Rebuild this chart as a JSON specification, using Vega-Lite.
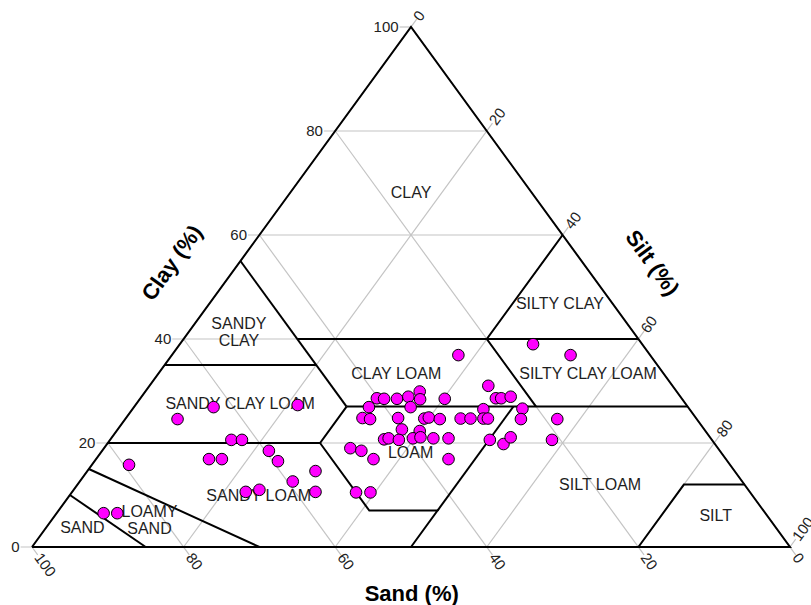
{
  "$schema": "https://vega.github.io/schema/vega-lite/v6.json",
  "width": 758,
  "height": 520,
  "autosize": {"type": "none"},
  "padding": {"left": 32, "top": 27, "right": 21, "bottom": 58},
  "background": "white",
  "config": {"view": {"stroke": null}, "font": "Liberation Sans"},
  "datasets": {
    "grid": [
      {"id": "c0", "ord": 0, "sand": 101.5, "silt": -1.5, "clay": 0}, {"id": "c0", "ord": 1, "sand": 0, "silt": 100, "clay": 0},
      {"id": "c20", "ord": 0, "sand": 81.5, "silt": -1.5, "clay": 20}, {"id": "c20", "ord": 1, "sand": 0, "silt": 80, "clay": 20},
      {"id": "c40", "ord": 0, "sand": 61.5, "silt": -1.5, "clay": 40}, {"id": "c40", "ord": 1, "sand": 0, "silt": 60, "clay": 40},
      {"id": "c60", "ord": 0, "sand": 41.5, "silt": -1.5, "clay": 60}, {"id": "c60", "ord": 1, "sand": 0, "silt": 40, "clay": 60},
      {"id": "c80", "ord": 0, "sand": 21.5, "silt": -1.5, "clay": 80}, {"id": "c80", "ord": 1, "sand": 0, "silt": 20, "clay": 80},
      {"id": "c100", "ord": 0, "sand": 1.5, "silt": -1.5, "clay": 100}, {"id": "c100", "ord": 1, "sand": 0, "silt": 0, "clay": 100},
      {"id": "s0", "ord": 0, "sand": 0, "silt": 0, "clay": 100}, {"id": "s0", "ord": 1, "sand": 0, "silt": 101.5, "clay": -1.5},
      {"id": "s20", "ord": 0, "sand": 20, "silt": 0, "clay": 80}, {"id": "s20", "ord": 1, "sand": 20, "silt": 81.5, "clay": -1.5},
      {"id": "s40", "ord": 0, "sand": 40, "silt": 0, "clay": 60}, {"id": "s40", "ord": 1, "sand": 40, "silt": 61.5, "clay": -1.5},
      {"id": "s60", "ord": 0, "sand": 60, "silt": 0, "clay": 40}, {"id": "s60", "ord": 1, "sand": 60, "silt": 41.5, "clay": -1.5},
      {"id": "s80", "ord": 0, "sand": 80, "silt": 0, "clay": 20}, {"id": "s80", "ord": 1, "sand": 80, "silt": 21.5, "clay": -1.5},
      {"id": "s100", "ord": 0, "sand": 100, "silt": 0, "clay": 0}, {"id": "s100", "ord": 1, "sand": 100, "silt": 1.5, "clay": -1.5},
      {"id": "t0", "ord": 0, "sand": 100, "silt": 0, "clay": 0}, {"id": "t0", "ord": 1, "sand": -1.5, "silt": 0, "clay": 101.5},
      {"id": "t20", "ord": 0, "sand": 80, "silt": 20, "clay": 0}, {"id": "t20", "ord": 1, "sand": -1.5, "silt": 20, "clay": 81.5},
      {"id": "t40", "ord": 0, "sand": 60, "silt": 40, "clay": 0}, {"id": "t40", "ord": 1, "sand": -1.5, "silt": 40, "clay": 61.5},
      {"id": "t60", "ord": 0, "sand": 40, "silt": 60, "clay": 0}, {"id": "t60", "ord": 1, "sand": -1.5, "silt": 60, "clay": 41.5},
      {"id": "t80", "ord": 0, "sand": 20, "silt": 80, "clay": 0}, {"id": "t80", "ord": 1, "sand": -1.5, "silt": 80, "clay": 21.5},
      {"id": "t100", "ord": 0, "sand": 0, "silt": 100, "clay": 0}, {"id": "t100", "ord": 1, "sand": -1.5, "silt": 100, "clay": 1.5}
    ],
    "classes": [
      {"id": "outer", "ord": 0, "sand": 100, "silt": 0, "clay": 0}, {"id": "outer", "ord": 1, "sand": 0, "silt": 100, "clay": 0},
      {"id": "outer", "ord": 2, "sand": 0, "silt": 0, "clay": 100}, {"id": "outer", "ord": 3, "sand": 100, "silt": 0, "clay": 0},
      {"id": "sand", "ord": 0, "sand": 90, "silt": 0, "clay": 10}, {"id": "sand", "ord": 1, "sand": 85, "silt": 15, "clay": 0},
      {"id": "loamysand", "ord": 0, "sand": 85, "silt": 0, "clay": 15}, {"id": "loamysand", "ord": 1, "sand": 70, "silt": 30, "clay": 0},
      {"id": "clay20", "ord": 0, "sand": 80, "silt": 0, "clay": 20}, {"id": "clay20", "ord": 1, "sand": 52, "silt": 28, "clay": 20},
      {"id": "clay20", "ord": 2, "sand": 45, "silt": 28, "clay": 27},
      {"id": "sandyloam", "ord": 0, "sand": 52, "silt": 28, "clay": 20}, {"id": "sandyloam", "ord": 1, "sand": 52, "silt": 41, "clay": 7},
      {"id": "sandyloam", "ord": 2, "sand": 43, "silt": 50, "clay": 7}, {"id": "sandyloam", "ord": 3, "sand": 50, "silt": 50, "clay": 0},
      {"id": "silt50", "ord": 0, "sand": 43, "silt": 50, "clay": 7}, {"id": "silt50", "ord": 1, "sand": 23, "silt": 50, "clay": 27},
      {"id": "clay35", "ord": 0, "sand": 65, "silt": 0, "clay": 35}, {"id": "clay35", "ord": 1, "sand": 45, "silt": 20, "clay": 35},
      {"id": "sand45", "ord": 0, "sand": 45, "silt": 0, "clay": 55}, {"id": "sand45", "ord": 1, "sand": 45, "silt": 28, "clay": 27},
      {"id": "clay27", "ord": 0, "sand": 45, "silt": 28, "clay": 27}, {"id": "clay27", "ord": 1, "sand": 0, "silt": 73, "clay": 27},
      {"id": "clay40", "ord": 0, "sand": 45, "silt": 15, "clay": 40}, {"id": "clay40", "ord": 1, "sand": 0, "silt": 60, "clay": 40},
      {"id": "siltyclay", "ord": 0, "sand": 0, "silt": 40, "clay": 60}, {"id": "siltyclay", "ord": 1, "sand": 20, "silt": 40, "clay": 40},
      {"id": "siltyclay", "ord": 2, "sand": 20, "silt": 53, "clay": 27},
      {"id": "silt", "ord": 0, "sand": 20, "silt": 80, "clay": 0}, {"id": "silt", "ord": 1, "sand": 8, "silt": 80, "clay": 12},
      {"id": "silt", "ord": 2, "sand": 0, "silt": 88, "clay": 12}
    ],
    "classNames": [
      {"name": "CLAY", "sand": 16, "silt": 16, "clay": 68},
      {"name": "SANDY\nCLAY", "sand": 51.3, "silt": 5.9, "clay": 42.8},
      {"name": "SILTY CLAY", "sand": 7, "silt": 46.3, "clay": 46.7},
      {"name": "CLAY LOAM", "sand": 35.3, "silt": 31.4, "clay": 33.3},
      {"name": "SILTY CLAY LOAM", "sand": 10, "silt": 56.7, "clay": 33.3},
      {"name": "SANDY CLAY LOAM", "sand": 58.8, "silt": 13.7, "clay": 27.5},
      {"name": "LOAM", "sand": 41, "silt": 40.9, "clay": 18.1},
      {"name": "SILT LOAM", "sand": 19.1, "silt": 69, "clay": 11.9},
      {"name": "SILT", "sand": 6.8, "silt": 87.2, "clay": 6},
      {"name": "SANDY LOAM", "sand": 65.2, "silt": 25, "clay": 9.8},
      {"name": "LOAMY\nSAND", "sand": 81.1, "silt": 12.1, "clay": 6.8},
      {"name": "SAND", "sand": 91.5, "silt": 4.8, "clay": 3.7}
    ],
    "ticks": [
      {"axis": "clay", "label": "0", "sand": 101.5, "silt": -1.5, "clay": 0},
      {"axis": "clay", "label": "20", "sand": 81.5, "silt": -1.5, "clay": 20},
      {"axis": "clay", "label": "40", "sand": 61.5, "silt": -1.5, "clay": 40},
      {"axis": "clay", "label": "60", "sand": 41.5, "silt": -1.5, "clay": 60},
      {"axis": "clay", "label": "80", "sand": 21.5, "silt": -1.5, "clay": 80},
      {"axis": "clay", "label": "100", "sand": 1.5, "silt": -1.5, "clay": 100},
      {"axis": "sand", "label": "0", "sand": 0, "silt": 101.5, "clay": -1.5},
      {"axis": "sand", "label": "20", "sand": 20, "silt": 81.5, "clay": -1.5},
      {"axis": "sand", "label": "40", "sand": 40, "silt": 61.5, "clay": -1.5},
      {"axis": "sand", "label": "60", "sand": 60, "silt": 41.5, "clay": -1.5},
      {"axis": "sand", "label": "80", "sand": 80, "silt": 21.5, "clay": -1.5},
      {"axis": "sand", "label": "100", "sand": 100, "silt": 1.5, "clay": -1.5},
      {"axis": "silt", "label": "0", "sand": -1.5, "silt": 0, "clay": 101.5},
      {"axis": "silt", "label": "20", "sand": -1.5, "silt": 20, "clay": 81.5},
      {"axis": "silt", "label": "40", "sand": -1.5, "silt": 40, "clay": 61.5},
      {"axis": "silt", "label": "60", "sand": -1.5, "silt": 60, "clay": 41.5},
      {"axis": "silt", "label": "80", "sand": -1.5, "silt": 80, "clay": 21.5},
      {"axis": "silt", "label": "100", "sand": -1.5, "silt": 100, "clay": 1.5}
    ],
    "titles": [
      {"axis": "clay", "title": "Clay (%)", "sand": 54.2, "silt": -8.8, "clay": 54.6},
      {"axis": "silt", "title": "Silt (%)", "sand": -9.1, "silt": 54.5, "clay": 54.6},
      {"axis": "sand", "title": "Sand (%)", "sand": 54.4, "silt": 54.6, "clay": -9}
    ],
    "samples": [
      {"sand": 25.3, "silt": 37.8, "clay": 36.9}, {"sand": 14.4, "silt": 46.6, "clay": 39.0},
      {"sand": 10.5, "silt": 52.6, "clay": 36.9}, {"sand": 24.3, "silt": 44.7, "clay": 31.0},
      {"sand": 40.2, "silt": 31.2, "clay": 28.6}, {"sand": 39.3, "silt": 32.2, "clay": 28.5},
      {"sand": 37.6, "silt": 33.9, "clay": 28.5}, {"sand": 35.9, "silt": 35.2, "clay": 28.9},
      {"sand": 33.9, "silt": 36.2, "clay": 29.9}, {"sand": 34.6, "silt": 37.0, "clay": 28.4},
      {"sand": 31.3, "silt": 40.2, "clay": 28.5}, {"sand": 24.5, "silt": 46.9, "clay": 28.6},
      {"sand": 23.8, "silt": 47.6, "clay": 28.6}, {"sand": 22.4, "silt": 48.7, "clay": 28.9},
      {"sand": 42.1, "silt": 31.0, "clay": 26.9}, {"sand": 36.6, "silt": 36.5, "clay": 26.9},
      {"sand": 27.2, "silt": 46.3, "clay": 26.5}, {"sand": 22.0, "silt": 51.4, "clay": 26.6},
      {"sand": 44.0, "silt": 31.2, "clay": 24.8}, {"sand": 43.1, "silt": 32.3, "clay": 24.6},
      {"sand": 39.3, "silt": 35.9, "clay": 24.8}, {"sand": 35.9, "silt": 39.4, "clay": 24.7},
      {"sand": 35.2, "silt": 39.9, "clay": 24.9}, {"sand": 33.9, "silt": 41.5, "clay": 24.6},
      {"sand": 31.1, "silt": 44.2, "clay": 24.7}, {"sand": 29.8, "silt": 45.5, "clay": 24.7},
      {"sand": 28.1, "silt": 47.2, "clay": 24.7}, {"sand": 27.5, "silt": 47.8, "clay": 24.7},
      {"sand": 23.2, "silt": 52.2, "clay": 24.6}, {"sand": 18.4, "silt": 57.0, "clay": 24.6},
      {"sand": 39.9, "silt": 37.5, "clay": 22.6}, {"sand": 37.7, "silt": 40.0, "clay": 22.3},
      {"sand": 43.2, "silt": 36.1, "clay": 20.7}, {"sand": 42.5, "silt": 36.6, "clay": 20.9},
      {"sand": 41.3, "silt": 38.1, "clay": 20.6}, {"sand": 39.3, "silt": 39.8, "clay": 20.9},
      {"sand": 38.2, "silt": 40.7, "clay": 21.1}, {"sand": 36.6, "silt": 42.5, "clay": 20.9},
      {"sand": 34.6, "silt": 44.5, "clay": 20.9}, {"sand": 29.3, "silt": 50.1, "clay": 20.6},
      {"sand": 27.9, "silt": 52.3, "clay": 19.8}, {"sand": 26.3, "silt": 52.6, "clay": 21.1},
      {"sand": 21.1, "silt": 58.3, "clay": 20.6}, {"sand": 48.5, "silt": 32.5, "clay": 19.0},
      {"sand": 47.3, "silt": 34.2, "clay": 18.5}, {"sand": 46.5, "silt": 36.6, "clay": 16.9},
      {"sand": 36.6, "silt": 46.5, "clay": 16.9}, {"sand": 52.0, "silt": 37.5, "clay": 10.5},
      {"sand": 50.1, "silt": 39.4, "clay": 10.5},
      {"sand": 87.3, "silt": 6.2, "clay": 6.5}, {"sand": 85.5, "silt": 8.0, "clay": 6.5},
      {"sand": 79.3, "silt": 4.9, "clay": 15.8}, {"sand": 68.5, "silt": 6.9, "clay": 24.6},
      {"sand": 62.6, "silt": 10.5, "clay": 26.9}, {"sand": 51.3, "silt": 21.4, "clay": 27.3},
      {"sand": 63.4, "silt": 16.0, "clay": 20.6}, {"sand": 62.0, "silt": 17.4, "clay": 20.6},
      {"sand": 68.2, "silt": 14.9, "clay": 16.9}, {"sand": 66.5, "silt": 16.6, "clay": 16.9},
      {"sand": 59.5, "silt": 22.0, "clay": 18.5}, {"sand": 59.3, "silt": 24.2, "clay": 16.5},
      {"sand": 55.3, "silt": 30.1, "clay": 14.6}, {"sand": 59.3, "silt": 28.1, "clay": 12.6},
      {"sand": 66.5, "silt": 22.9, "clay": 10.6}, {"sand": 64.5, "silt": 24.5, "clay": 11.0},
      {"sand": 57.3, "silt": 32.1, "clay": 10.6}
    ]
  },
  "layer": [
    {
      "data": {"name": "grid"},
      "transform": [{"calculate": "datum.silt + datum.clay / 2", "as": "tx"}],
      "mark": {"type": "line", "stroke": "#c4c4c4", "strokeWidth": 1.2},
      "encoding": {
        "x": {"field": "tx", "type": "quantitative", "scale": {"domain": [0, 100], "nice": false, "zero": false}, "axis": null},
        "y": {"field": "clay", "type": "quantitative", "scale": {"domain": [0, 100], "nice": false, "zero": false}, "axis": null},
        "detail": {"field": "id"},
        "order": {"field": "ord"}
      }
    },
    {
      "data": {"name": "classes"},
      "transform": [{"calculate": "datum.silt + datum.clay / 2", "as": "tx"}],
      "mark": {"type": "line", "stroke": "black", "strokeWidth": 2, "strokeJoin": "miter"},
      "encoding": {
        "x": {"field": "tx", "type": "quantitative"},
        "y": {"field": "clay", "type": "quantitative"},
        "detail": {"field": "id"},
        "order": {"field": "ord"}
      }
    },
    {
      "data": {"name": "classNames"},
      "transform": [{"calculate": "datum.silt + datum.clay / 2", "as": "tx"}],
      "mark": {"type": "text", "fontSize": 16, "color": "#1e1e1e", "align": "center", "baseline": "middle", "lineBreak": "\n", "lineHeight": 17},
      "encoding": {
        "x": {"field": "tx", "type": "quantitative"},
        "y": {"field": "clay", "type": "quantitative"},
        "text": {"field": "name"}
      }
    },
    {
      "data": {"name": "samples"},
      "transform": [{"calculate": "datum.silt + datum.clay / 2", "as": "tx"}],
      "mark": {"type": "point", "filled": true, "fill": "#ff00ff", "stroke": "black", "strokeWidth": 1, "size": 135, "opacity": 1},
      "encoding": {
        "x": {"field": "tx", "type": "quantitative"},
        "y": {"field": "clay", "type": "quantitative"}
      }
    },
    {
      "data": {"name": "ticks"},
      "transform": [{"filter": "datum.axis === 'clay'"}, {"calculate": "datum.silt + datum.clay / 2", "as": "tx"}],
      "mark": {"type": "text", "fontSize": 15, "color": "#222", "align": "right", "baseline": "middle", "dx": -1},
      "encoding": {
        "x": {"field": "tx", "type": "quantitative"},
        "y": {"field": "clay", "type": "quantitative"},
        "text": {"field": "label"}
      }
    },
    {
      "data": {"name": "ticks"},
      "transform": [{"filter": "datum.axis === 'sand'"}, {"calculate": "datum.silt + datum.clay / 2", "as": "tx"}],
      "mark": {"type": "text", "fontSize": 15, "color": "#222", "align": "left", "baseline": "middle", "angle": 54},
      "encoding": {
        "x": {"field": "tx", "type": "quantitative"},
        "y": {"field": "clay", "type": "quantitative"},
        "text": {"field": "label"}
      }
    },
    {
      "data": {"name": "ticks"},
      "transform": [{"filter": "datum.axis === 'silt'"}, {"calculate": "datum.silt + datum.clay / 2", "as": "tx"}],
      "mark": {"type": "text", "fontSize": 15, "color": "#222", "align": "left", "baseline": "middle", "angle": -54},
      "encoding": {
        "x": {"field": "tx", "type": "quantitative"},
        "y": {"field": "clay", "type": "quantitative"},
        "text": {"field": "label"}
      }
    },
    {
      "data": {"name": "titles"},
      "transform": [{"filter": "datum.axis === 'clay'"}, {"calculate": "datum.silt + datum.clay / 2", "as": "tx"}],
      "mark": {"type": "text", "fontSize": 22, "fontWeight": "bold", "color": "black", "align": "center", "baseline": "middle", "angle": -54},
      "encoding": {
        "x": {"field": "tx", "type": "quantitative"},
        "y": {"field": "clay", "type": "quantitative"},
        "text": {"field": "title"}
      }
    },
    {
      "data": {"name": "titles"},
      "transform": [{"filter": "datum.axis === 'silt'"}, {"calculate": "datum.silt + datum.clay / 2", "as": "tx"}],
      "mark": {"type": "text", "fontSize": 22, "fontWeight": "bold", "color": "black", "align": "center", "baseline": "middle", "angle": 54},
      "encoding": {
        "x": {"field": "tx", "type": "quantitative"},
        "y": {"field": "clay", "type": "quantitative"},
        "text": {"field": "title"}
      }
    },
    {
      "data": {"name": "titles"},
      "transform": [{"filter": "datum.axis === 'sand'"}, {"calculate": "datum.silt + datum.clay / 2", "as": "tx"}],
      "mark": {"type": "text", "fontSize": 22, "fontWeight": "bold", "color": "black", "align": "center", "baseline": "middle"},
      "encoding": {
        "x": {"field": "tx", "type": "quantitative"},
        "y": {"field": "clay", "type": "quantitative"},
        "text": {"field": "title"}
      }
    }
  ]
}
